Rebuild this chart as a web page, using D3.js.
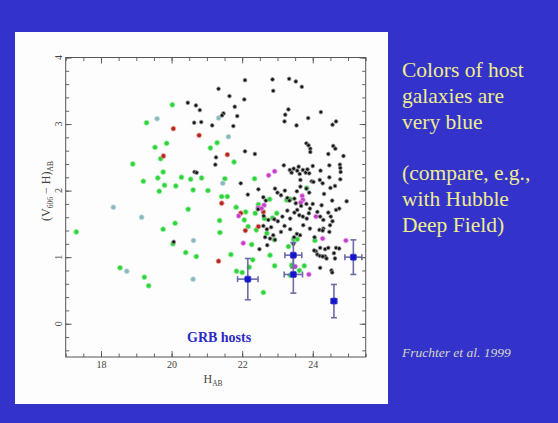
<!DOCTYPE html>
<html>
<head>
<meta charset="utf-8">
<script src="https://cdn.jsdelivr.net/npm/d3@7"></script>
<style>
  html, body { margin: 0; padding: 0; background: #3333cc; }
  svg { display: block; }
</style>
</head>
<body>
<svg id="chart" width="558" height="423" font-family="'Liberation Serif', 'DejaVu Serif', serif"></svg>
<script>
// Field galaxies, H_AB vs (V606 - H)_AB, by colour class
const greenPts = [
  [17.30,1.38],[18.54,0.84],[19.23,0.70],[19.35,0.57],[18.90,2.40],[19.20,2.14],[19.29,3.02],
  [19.53,2.65],[19.61,2.19],[19.65,1.99],[19.69,2.48],[19.76,2.28],[19.80,2.08],[19.86,2.71],
  [19.76,1.42],[20.02,3.29],[20.04,1.20],[20.10,1.51],[20.12,2.07],[20.28,2.20],[20.40,1.07],
  [20.47,1.72],[20.54,2.17],[20.61,2.01],[20.70,1.01],[20.85,2.19],[21.03,2.00],[21.10,2.64],
  [21.29,2.72],[21.36,1.55],[21.37,1.37],[21.42,1.91],[21.51,2.18],[21.58,1.91],[21.68,1.04],
  [21.77,2.43],[21.83,1.75],[21.84,0.79],[22.00,0.77],[22.06,1.56],[22.10,1.68],[22.17,1.46],
  [22.27,1.19],[22.20,0.85],[22.30,0.96],[22.35,2.18],[22.37,1.66],[22.40,1.41],[22.46,1.79],
  [22.60,0.47],[22.63,1.58],[22.70,1.36],[22.78,1.87],[22.79,1.03],[22.86,1.59],[22.91,1.26],
  [22.92,0.87],[22.98,1.66],[23.26,1.86],[23.36,1.87],[23.31,1.16],[23.36,0.73],[23.46,1.27],
  [23.56,1.27],[23.62,0.80],[23.76,0.87],[23.83,2.04],[24.06,1.25],[23.40,0.88]
];
const blackPts = [
  [22.08,3.66],[22.86,3.67],[23.33,3.68],[23.52,3.64],[23.69,3.56],[22.88,3.50],[21.33,3.53],
  [21.64,3.42],[22.06,3.37],[20.46,3.32],[20.69,3.28],[20.80,3.21],[21.79,3.26],[21.47,3.16],
  [21.43,3.13],[21.86,3.12],[20.64,3.02],[20.84,3.03],[21.15,2.98],[21.75,2.97],[23.31,3.22],
  [23.22,3.14],[23.20,3.04],[23.54,2.98],[23.87,3.09],[24.23,3.18],[24.66,3.04],[24.56,2.99],
  [23.82,2.71],[23.88,2.68],[23.93,2.63],[23.93,2.58],[24.58,2.67],[24.64,2.63],[24.44,2.55],
  [24.87,2.52],[22.08,2.59],[22.36,2.55],[21.26,2.50],[21.24,2.39],[20.65,2.28],[20.71,2.27],
  [21.96,2.11],[23.18,2.38],[20.06,1.23],
  [23.35,2.31],[23.40,2.27],[23.46,2.33],[23.56,2.30],[23.60,2.36],[23.63,2.25],[23.72,2.31],
  [23.80,2.27],[23.85,2.32],[23.90,2.26],[24.00,2.37],[24.22,2.30],[24.47,2.38],[24.77,2.39],
  [24.78,2.34],[24.79,2.28],[24.78,2.17],[24.20,2.16],[24.47,2.20],[23.97,2.14],[23.65,2.16],
  [22.16,1.94],[22.46,2.02],[22.60,1.90],[22.67,1.85],[22.93,2.03],[23.00,1.97],[23.10,1.93],
  [23.21,2.00],[23.28,1.89],[23.34,1.85],[23.48,1.88],[23.55,1.99],[23.65,2.06],[23.82,2.03],
  [23.90,1.97],[24.02,2.13],[24.28,2.11],[24.50,2.04],[24.63,2.07],[24.32,1.95],[24.55,1.85],
  [24.96,1.84],[23.52,1.81],[23.67,1.77],[23.82,1.80],[24.00,1.80],[24.25,1.78],[24.75,1.73],
  [23.28,1.70],[23.36,1.58],[23.48,1.67],[23.56,1.71],[23.62,1.63],[23.72,1.61],[23.83,1.58],
  [23.89,1.66],[23.92,1.73],[24.13,1.68],[24.21,1.61],[24.30,1.56],[24.44,1.67],[24.51,1.61],
  [24.66,1.71],[24.56,1.54],[22.61,1.62],[22.74,1.56],[22.91,1.57],[23.01,1.54],[23.14,1.61],
  [22.45,1.72],
  [24.49,1.48],[24.30,1.43],[24.47,1.38],[24.19,1.41],[24.28,1.40],[23.92,1.43],[23.73,1.48],
  [23.64,1.33],[23.47,1.30],[23.36,1.42],[23.20,1.47],[22.88,1.33],[22.79,1.28],[22.65,1.30],
  [22.93,1.26],[22.60,1.47],[22.70,1.42],[22.82,1.45],[23.55,1.35],[23.10,1.38],[24.05,1.30],
  [22.49,1.12],[22.71,1.18],[24.21,1.14],[24.35,1.12],[24.44,1.14],[24.66,1.14],[24.75,1.13],
  [24.60,1.06],[24.35,1.01],[24.39,0.98],[24.09,1.09],[24.13,1.04],[24.04,1.10],[24.20,1.02],
  [24.63,0.98],[24.28,1.01],[24.21,0.84],[24.53,0.80],[24.55,0.77],[23.45,1.20]
];
const redPts = [
  [20.05,2.93],[20.78,2.83],[19.77,2.52],[21.58,2.54],[21.42,1.81],[21.96,1.66],
  [22.09,1.40],[22.46,1.46],[22.60,1.68],[21.33,0.94]
];
const magentaPts = [
  [22.75,2.23],[22.92,2.29],[22.45,1.74],[22.62,1.78],[23.70,1.92],[23.72,1.86],[23.66,1.82],
  [24.09,1.61],[24.28,1.28],[24.94,1.25],[23.50,0.86],[23.89,0.74],[22.03,1.21],[21.90,1.62],
  [22.55,1.73]
];
const cyanPts = [
  [19.59,3.08],[21.33,3.09],[21.61,2.81],[21.45,2.11],[18.35,1.75],[19.15,1.60],
  [18.73,0.79],[20.62,1.25],[20.61,0.67]
];
// GRB host galaxies: H, colour, and their errors
const grbH    = [22.16, 23.45, 23.45, 24.60, 25.15];
const grbC    = [0.67, 1.03, 0.74, 0.34, 1.00];
const grbHerr = [0.29, 0.24, 0.26, 0.08, 0.24];
const grbCerr = [0.31, 0.19, 0.28, 0.25, 0.26];

const xLabels = [18, 20, 22, 24];
const yLabels = [0, 1, 2, 3, 4];
const slideLines = ["Colors of host", "galaxies are", "very blue", "", "(compare, e.g.,", "with Hubble", "Deep Field)"];

const serif = "'Liberation Serif', 'DejaVu Serif', serif";
const svg = d3.select("#chart");
svg.append("rect").attr("width", 558).attr("height", 423).attr("fill", "#3333cc");
svg.append("rect").attr("x", 15).attr("y", 32).attr("width", 373).attr("height", 372).attr("fill", "#fdfdfd");

const x = d3.scaleLinear().domain([17, 25.5]).range([65.7, 365.7]);
const y = d3.scaleLinear().domain([-0.5, 4]).range([357, 57.5]);
const [x0, x1] = x.range(), [y0, y1] = y.range();

const axisColor = "#555";
const g = svg.append("g");

function styleAxis(sel) {
  sel.attr("font-family", serif);
  sel.select(".domain").remove();
  sel.selectAll("line").attr("stroke", axisColor).attr("stroke-width", 0.9);
  sel.selectAll("text").attr("fill", "#444").attr("font-size", 10).attr("font-family", serif);
}
const xMinor = d3.range(17, 25.51, 0.5);
const yMinor = d3.range(-0.4, 4.01, 0.2).map(v => +v.toFixed(1));

// bottom
g.append("g").attr("transform", `translate(0,${y0})`)
  .call(d3.axisBottom(x).tickValues(xMinor).tickSizeInner(-3.5).tickSizeOuter(0).tickFormat(""))
  .call(styleAxis);
g.append("g").attr("transform", `translate(0,${y0})`)
  .call(d3.axisBottom(x).tickValues(xLabels).tickSizeInner(-6).tickSizeOuter(0).tickPadding(4).tickFormat(d3.format("d")))
  .call(styleAxis);
// top
g.append("g").attr("transform", `translate(0,${y1})`)
  .call(d3.axisTop(x).tickValues(xMinor).tickSizeInner(-3.5).tickSizeOuter(0).tickFormat(""))
  .call(styleAxis);
g.append("g").attr("transform", `translate(0,${y1})`)
  .call(d3.axisTop(x).tickValues(xLabels).tickSizeInner(-6).tickSizeOuter(0).tickFormat(""))
  .call(styleAxis);
// left
g.append("g").attr("transform", `translate(${x0},0)`)
  .call(d3.axisLeft(y).tickValues(yMinor).tickSizeInner(-3.5).tickSizeOuter(0).tickFormat(""))
  .call(styleAxis);
g.append("g").attr("transform", `translate(${x0},0)`)
  .call(d3.axisLeft(y).tickValues(yLabels).tickSizeInner(-6).tickSizeOuter(0).tickFormat(""))
  .call(styleAxis);
// right
g.append("g").attr("transform", `translate(${x1},0)`)
  .call(d3.axisRight(y).tickValues(yMinor).tickSizeInner(-3.5).tickSizeOuter(0).tickFormat(""))
  .call(styleAxis);
g.append("g").attr("transform", `translate(${x1},0)`)
  .call(d3.axisRight(y).tickValues(yLabels).tickSizeInner(-6).tickSizeOuter(0).tickFormat(""))
  .call(styleAxis);

// rotated y tick labels
g.selectAll("text.ylab").data(yLabels).join("text")
  .attr("class", "ylab")
  .attr("transform", d => `translate(${x0 - 3.5},${y(d)}) rotate(-90)`)
  .attr("text-anchor", "middle").attr("font-size", 10).attr("fill", "#444")
  .attr("font-family", serif)
  .text(d => d);

// frame
g.append("rect").attr("x", x0).attr("y", y1).attr("width", x1 - x0).attr("height", y0 - y1)
  .attr("fill", "none").attr("stroke", axisColor).attr("stroke-width", 1);

// axis titles
const xt = g.append("text").attr("x", 213).attr("y", 383).attr("text-anchor", "middle")
  .attr("font-size", 12).attr("fill", "#444").attr("font-family", serif);
xt.append("tspan").text("H");
xt.append("tspan").attr("font-size", 7.5).attr("dy", 3).text("AB");

const yt = g.append("text").attr("transform", "translate(50,191) rotate(-90)")
  .attr("text-anchor", "middle").attr("font-size", 12).attr("fill", "#444").attr("font-family", serif);
yt.append("tspan").text("(V");
yt.append("tspan").attr("font-size", 7.5).attr("dy", 3).text("606");
yt.append("tspan").attr("dy", -3).text(" \u2212 H)");
yt.append("tspan").attr("font-size", 7.5).attr("dy", 3).text("AB");

// points
const series = [
  { pts: greenPts, fill: "#2ed23c", r: 2.5, halo: "#9ff0a4" },
  { pts: cyanPts, fill: "#8ab8bc", r: 2.5, halo: "#c9e3e4" },
  { pts: redPts, fill: "#b3261c", r: 2.4, halo: "#e9a39c" },
  { pts: magentaPts, fill: "#c43cc8", r: 2.4, halo: "#eaa8ec" },
  { pts: blackPts, fill: "#151515", r: 1.9, halo: "#999" }
];
const pg = svg.append("g");
series.forEach(s => {
  pg.append("g").selectAll("circle").data(s.pts).join("circle")
    .attr("cx", d => x(d[0])).attr("cy", d => y(d[1])).attr("r", s.r)
    .attr("fill", s.fill).attr("stroke", s.halo).attr("stroke-width", 0.8);
});

// GRB hosts with error bars
const grb = grbH.map((h, i) => ({ h, c: grbC[i], eh: grbHerr[i], ec: grbCerr[i] }));
const eg = svg.append("g").attr("stroke", "#6c6ca8").attr("stroke-width", 1.6);
grb.forEach(d => {
  const cx = x(d.h), cy = y(d.c);
  eg.append("line").attr("x1", cx).attr("x2", cx).attr("y1", y(d.c - d.ec)).attr("y2", y(d.c + d.ec));
  eg.append("line").attr("x1", cx - 3).attr("x2", cx + 3).attr("y1", y(d.c - d.ec)).attr("y2", y(d.c - d.ec));
  eg.append("line").attr("x1", cx - 3).attr("x2", cx + 3).attr("y1", y(d.c + d.ec)).attr("y2", y(d.c + d.ec));
  eg.append("line").attr("x1", x(d.h - d.eh)).attr("x2", x(d.h + d.eh)).attr("y1", cy).attr("y2", cy);
  eg.append("line").attr("x1", x(d.h - d.eh)).attr("x2", x(d.h - d.eh)).attr("y1", cy - 3).attr("y2", cy + 3);
  eg.append("line").attr("x1", x(d.h + d.eh)).attr("x2", x(d.h + d.eh)).attr("y1", cy - 3).attr("y2", cy + 3);
});
svg.append("g").selectAll("rect").data(grb).join("rect")
  .attr("x", d => x(d.h) - 3).attr("y", d => y(d.c) - 3).attr("width", 6).attr("height", 6)
  .attr("rx", 1.2).attr("fill", "#1414c8").attr("stroke", "#3a3ad8").attr("stroke-width", 0.8);

svg.append("text").attr("x", 187).attr("y", 342).attr("font-size", 14).attr("font-weight", "bold")
  .attr("font-family", serif).attr("fill", "#2a2ac6").text("GRB hosts");

// slide text
const st = svg.append("text").attr("font-size", 21.5).attr("fill", "#eeec8c").attr("font-family", serif);
slideLines.forEach((line, i) => {
  st.append("tspan").attr("x", 402).attr("y", 77 + i * 25.8).text(line);
});
svg.append("text").attr("x", 402).attr("y", 357).attr("font-size", 13.5).attr("font-style", "italic")
  .attr("font-family", serif).attr("fill", "#d6d6c4").text("Fruchter et al. 1999");
</script>
</body>
</html>
